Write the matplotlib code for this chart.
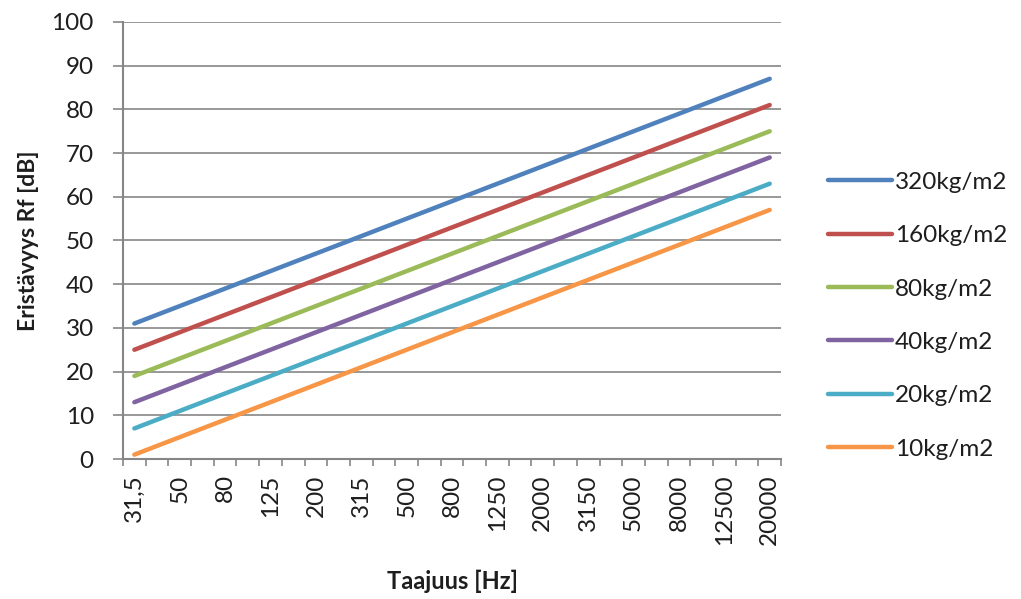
import matplotlib
matplotlib.use("Agg")
import matplotlib.pyplot as plt
import numpy as np

# third-octave band centre frequencies
freqs = ["31,5", "40", "50", "63", "80", "100", "125", "160", "200", "250",
         "315", "400", "500", "630", "800", "1000", "1250", "1600", "2000",
         "2500", "3150", "4000", "5000", "6300", "8000", "10000", "12500",
         "16000", "20000"]

r_320 = [31, 33, 35, 37, 39, 41, 43, 45, 47, 49, 51, 53, 55, 57, 59, 61, 63,
         65, 67, 69, 71, 73, 75, 77, 79, 81, 83, 85, 87]
r_160 = [25, 27, 29, 31, 33, 35, 37, 39, 41, 43, 45, 47, 49, 51, 53, 55, 57,
         59, 61, 63, 65, 67, 69, 71, 73, 75, 77, 79, 81]
r_80 = [19, 21, 23, 25, 27, 29, 31, 33, 35, 37, 39, 41, 43, 45, 47, 49, 51,
        53, 55, 57, 59, 61, 63, 65, 67, 69, 71, 73, 75]
r_40 = [13, 15, 17, 19, 21, 23, 25, 27, 29, 31, 33, 35, 37, 39, 41, 43, 45,
        47, 49, 51, 53, 55, 57, 59, 61, 63, 65, 67, 69]
r_20 = [7, 9, 11, 13, 15, 17, 19, 21, 23, 25, 27, 29, 31, 33, 35, 37, 39,
        41, 43, 45, 47, 49, 51, 53, 55, 57, 59, 61, 63]
r_10 = [1, 3, 5, 7, 9, 11, 13, 15, 17, 19, 21, 23, 25, 27, 29, 31, 33,
        35, 37, 39, 41, 43, 45, 47, 49, 51, 53, 55, 57]

series = [
    ("320kg/m2", r_320, "#4F81BD"),
    ("160kg/m2", r_160, "#C0504D"),
    ("80kg/m2", r_80, "#9BBB59"),
    ("40kg/m2", r_40, "#8064A2"),
    ("20kg/m2", r_20, "#4BACC6"),
    ("10kg/m2", r_10, "#F79646"),
]

plt.rcParams["font.family"] = ["Lato", "DejaVu Sans"]
grid_col = "#868686"
text_col = "#1e1e1e"


def main():
    fig = plt.figure(figsize=(10.21, 5.99), dpi=100)
    ax = fig.add_axes([0.1205, 0.2337, 0.6445, 0.7296])

    x = np.arange(len(freqs))
    for label, vals, col in series:
        ax.plot(x, vals, color=col, lw=3.2, label=label,
                solid_capstyle="round")

    ax.set_xlim(-0.5, len(freqs) - 0.5)
    ax.set_ylim(0, 100)
    ax.set_yticks(np.arange(0, 101, 10))
    ax.yaxis.grid(True, color=grid_col, lw=1.2)
    ax.set_axisbelow(True)

    # labels on every other band, tick marks between every band
    ax.set_xticks(x[::2])
    ax.set_xticklabels(freqs[::2], rotation=90)
    ax.set_xticks(np.arange(-0.5, len(freqs), 1), minor=True)
    ax.tick_params(axis="x", which="major", length=0, pad=11,
                   labelsize=17.5, labelcolor=text_col)
    ax.tick_params(axis="x", which="minor", length=5, width=1.2,
                   color=grid_col, direction="out")
    ax.tick_params(axis="y", length=7, width=1.2, color=grid_col,
                   labelsize=17.5, labelcolor=text_col, pad=14)

    for side in ("top", "right"):
        ax.spines[side].set_visible(False)
    for side in ("left", "bottom"):
        ax.spines[side].set_color(grid_col)
        ax.spines[side].set_linewidth(1.5)

    ax.set_xlabel("Taajuus [Hz]", fontsize=17, fontweight="bold",
                  color=text_col, labelpad=18)
    ax.set_ylabel("Eristävyys Rf [dB]", fontsize=16.5, fontweight="bold",
                  color=text_col, labelpad=9)

    fig.legend(loc="center left", bbox_to_anchor=(0.811, 0.473),
               frameon=False, fontsize=17.5, handlelength=2.63,
               handletextpad=0.12, labelspacing=1.33, borderpad=0,
               borderaxespad=0, labelcolor=text_col)

    fig.savefig("out.png", dpi=100, facecolor="white")


if __name__ == "__main__":
    main()
